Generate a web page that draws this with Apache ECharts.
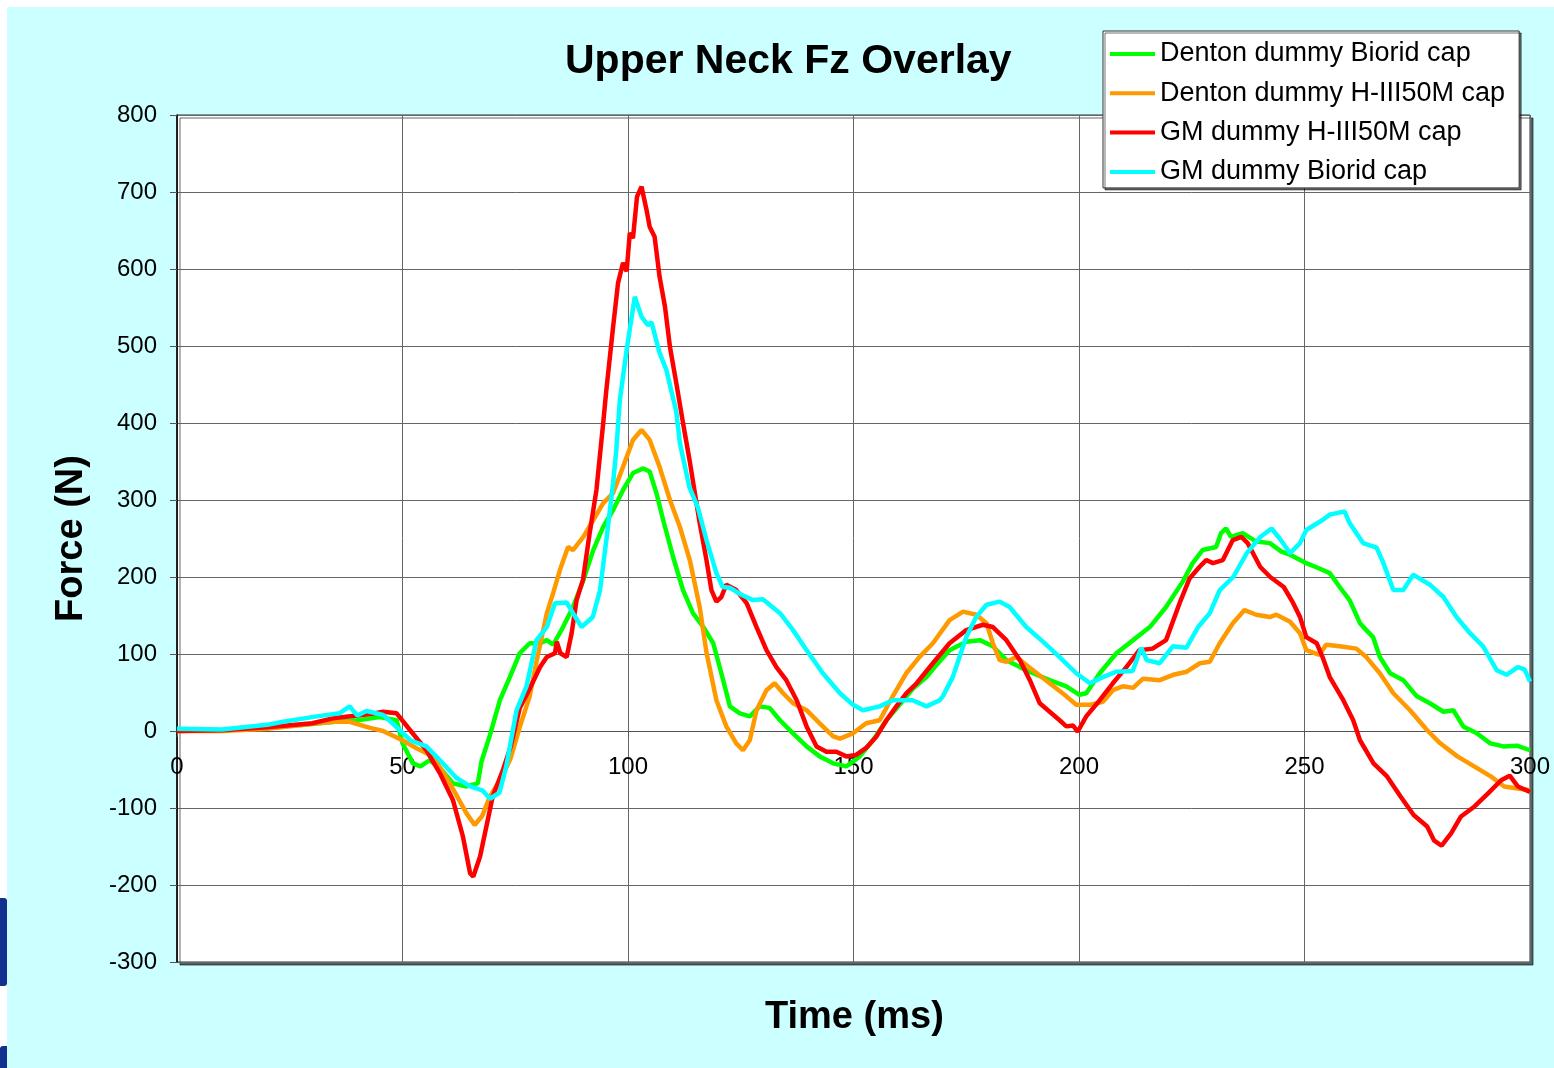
<!DOCTYPE html>
<html>
<head>
<meta charset="utf-8">
<title>Upper Neck Fz Overlay</title>
<script src="https://cdn.jsdelivr.net/npm/echarts@6/dist/echarts.min.js"></script>
<style>
  html, body { margin: 0; padding: 0; background: #ffffff; }
  #chart { width: 1554px; height: 1068px; }
</style>
</head>
<body>
<div id="chart"></div>
<script>
// legend names, same order as drawn
var seriesNames = ['Denton dummy Biorid cap', 'Denton dummy H-III50M cap', 'GM dummy H-III50M cap', 'GM dummy Biorid cap'];
var seriesColors = ['#00ff00', '#ff9900', '#ff0000', '#00ffff'];

// Denton dummy Biorid cap (ms / N)
var greenT = [0, 10, 20, 30, 35, 40, 45, 48.7, 50, 52.3, 54, 56, 58.3, 61.2, 64.2, 66.7, 67.5, 69.4, 71.6, 73.8, 76, 78.2, 80.5, 82, 83.4, 85.6, 87.8, 90.1, 92.3, 94.5, 96.7, 98.9, 101.1, 103.4, 104.8, 106.3, 107.8, 110, 112.2, 114.4, 116.7, 118.9, 120.7, 122.6, 124.8, 127, 129.2, 131.4, 133.7, 136.6, 139.6, 142.5, 145.5, 148.4, 151.4, 154.3, 157.3, 160.2, 163.2, 166.2, 168, 171.3, 175, 178, 180.9, 183.9, 186.9, 189.8, 193.5, 197.2, 200.1, 201.6, 204.6, 208.3, 212, 215.7, 219.3, 223, 225.2, 227.4, 230.4, 231.5, 232.6, 233.7, 236.3, 239.3, 242.3, 244.9, 246.8, 250.4, 253.3, 255.6, 257.8, 260, 262.3, 263.7, 265.2, 266.7, 269, 271.9, 274.9, 277.8, 280.8, 283, 285.2, 288.2, 291.2, 294.1, 297.1, 300];
var greenV = [0, 1, 4, 9, 12, 14, 18, 14, -16, -42, -46, -38, -48, -68, -72, -68, -40, -5, 40, 70, 101, 114, 114, 118, 112, 135, 161, 196, 235, 265, 287, 313, 335, 341, 337, 309, 274, 226, 183, 153, 135, 114, 75, 32, 23, 19, 32, 30, 14, -3, -20, -33, -42, -46, -33, -12, 14, 34, 55, 70, 83, 105, 116, 118, 110, 92, 83, 75, 66, 58, 47, 49, 75, 101, 118, 135, 161, 194, 218, 235, 239, 257, 263, 252, 257, 246, 244, 233, 229, 218, 211, 205, 187, 170, 140, 131, 122, 96, 75, 66, 45, 36, 25, 27, 6, -3, -16, -20, -19, -25];

// Denton dummy H-III50M cap
var orangeT = [0, 10, 20, 25, 31, 35, 38.3, 42.8, 45.7, 50, 53, 56.8, 60.5, 64.2, 66, 67.7, 69.4, 72, 74, 76, 78.2, 79.7, 82, 83.4, 84.9, 86.7, 87.8, 90.1, 92.3, 94.5, 96.7, 98.9, 101.1, 103, 104.8, 107, 109.3, 111.5, 113.7, 115.9, 117.4, 119.6, 121.8, 124, 125.5, 127, 128.5, 130.7, 132.5, 134.4, 136.6, 139.6, 142.5, 145.5, 147, 149.9, 152.8, 155.8, 158.7, 161.7, 164.6, 167.6, 171.3, 174.3, 177.2, 179.5, 180.9, 182.4, 183.9, 186.1, 189.8, 193.5, 197.2, 199.4, 202.4, 205.3, 207.5, 209.7, 212, 214.2, 217.9, 220.9, 223.9, 226.8, 229, 231.2, 234.1, 236.7, 239.3, 242.3, 243.8, 246.8, 249, 250.4, 253.3, 254.8, 257.8, 261.5, 263.7, 266.7, 269.7, 273.4, 277.2, 280.1, 283.9, 287.6, 291.3, 294.3, 296.5, 300];
var orangeV = [0, 0, 3, 6, 10, 12, 12, 4, 0, -12, -22, -33, -68, -107, -122, -110, -85, -60, -35, 5, 45, 90, 153, 179, 209, 239, 235, 252, 274, 296, 309, 343, 378, 391, 378, 343, 300, 265, 222, 161, 102, 40, 6, -16, -25, -12, 27, 53, 62, 49, 36, 27, 10, -7, -10, -3, 10, 14, 45, 75, 96, 114, 144, 155, 151, 140, 114, 92, 90, 96, 79, 62, 45, 34, 34, 38, 53, 58, 56, 68, 66, 73, 77, 88, 90, 114, 140, 157, 151, 148, 151, 142, 127, 105, 99, 112, 110, 107, 96, 75, 49, 27, 1, -16, -33, -46, -59, -72, -74, -77];

// GM dummy H-III50M cap
var redT = [0, 10, 20, 30, 35, 40, 43, 45.7, 48.7, 51.7, 55.3, 58.3, 61.2, 63.4, 65, 65.7, 67.2, 68.6, 70, 72.3, 74, 76, 78.2, 80.5, 82, 83.8, 84.2, 85, 86.4, 87.5, 88.6, 90, 91.5, 93, 94.5, 95.2, 96.7, 97.8, 98.9, 99.7, 100.4, 101.1, 102, 103, 104.1, 104.8, 105.9, 107, 108.2, 109.3, 110.7, 112.2, 113.7, 115.9, 117.4, 118.5, 119.6, 120.7, 121.8, 124, 126.3, 128.5, 130.7, 132.9, 135.1, 137.4, 139.6, 141.8, 144, 146.2, 148.4, 150.6, 152.8, 155.1, 157.3, 159.5, 161.7, 164, 167.6, 171.3, 175, 178.7, 180.9, 183.9, 186.9, 189.1, 191.3, 193.5, 195.7, 197.2, 198.7, 199.7, 201.6, 204.6, 207.5, 210.5, 213.4, 216.3, 219.3, 222.3, 224.5, 226.7, 228.2, 229.7, 231.9, 234.1, 236, 237.4, 240.2, 242.4, 245.4, 247.5, 249, 250.4, 252.7, 254, 255.6, 258.6, 260.8, 262.3, 265.3, 268.3, 271.3, 274.2, 277.2, 278.7, 280.4, 282.5, 284.7, 287.7, 290.7, 293.6, 295.5, 297.3, 300];
var redV = [0, 1, 5, 10, 17, 20, 22, 25, 23, 1, -25, -55, -90, -137, -185, -189, -163, -124, -85, -50, -20, 30, 55, 83, 96, 101, 116, 101, 96, 127, 170, 196, 257, 313, 400, 443, 525, 582, 608, 597, 647, 640, 694, 707, 677, 655, 642, 590, 551, 499, 452, 400, 350, 270, 222, 183, 168, 174, 190, 183, 166, 135, 105, 83, 66, 40, 6, -20, -27, -27, -33, -31, -22, -7, 14, 32, 49, 62, 88, 114, 131, 138, 135, 118, 92, 66, 36, 25, 14, 6, 7, -1, 19, 40, 62, 83, 105, 107, 118, 166, 198, 213, 222, 218, 222, 248, 252, 244, 213, 200, 187, 166, 148, 122, 114, 96, 70, 40, 14, -12, -42, -59, -85, -109, -124, -142, -149, -133, -111, -98, -81, -64, -58, -72, -79];

// GM dummy Biorid cap
var cyanT = [0, 10, 20, 23.5, 31, 36, 38.3, 40, 42, 45.7, 48.7, 51.7, 55.3, 58.3, 62, 65, 67.7, 69.4, 71.5, 73, 75.3, 77.5, 79.7, 82, 83.8, 86.4, 87.8, 89.7, 92.2, 93.8, 95.2, 96.7, 97.4, 98.2, 99.7, 101.5, 103, 104.4, 105.2, 107, 108.5, 110.7, 111.5, 113.6, 115.5, 117.4, 119.6, 121, 122.6, 124.8, 127.7, 129.9, 133.7, 136.6, 139.6, 143.2, 147, 149.9, 152.1, 155.8, 158.7, 161, 163.1, 166.2, 169.1, 169.8, 172, 173.5, 175, 177.2, 179.5, 182.4, 184.6, 188.3, 192, 195.7, 199.4, 202.4, 205.3, 208.3, 211.9, 213.8, 215, 217.9, 220.8, 223.8, 226.4, 229, 231.2, 234.2, 237.2, 240.2, 242.7, 244.5, 246.8, 249, 250.4, 254, 255.6, 258.9, 260, 263, 266, 267.5, 269.7, 271.9, 274.1, 277.8, 280.8, 283.7, 286.7, 289.6, 292.6, 294.8, 297.3, 298.8, 300];
var cyanV = [3, 2, 8, 12, 19, 23, 32, 20, 26, 21, 5, -12, -20, -38, -61, -72, -77, -88, -80, -46, 27, 58, 118, 135, 166, 167, 153, 135, 148, 183, 248, 322, 365, 430, 495, 564, 538, 527, 531, 491, 469, 415, 374, 317, 290, 248, 205, 187, 186, 178, 170, 171, 153, 131, 105, 75, 49, 34, 27, 32, 40, 40, 40, 32, 40, 45, 70, 96, 122, 148, 164, 168, 161, 135, 116, 96, 75, 62, 70, 77, 78, 108, 92, 88, 110, 108, 135, 153, 183, 200, 231, 252, 263, 250, 231, 244, 261, 274, 281, 285, 270, 244, 238, 218, 183, 183, 203, 190, 174, 148, 127, 110, 79, 73, 83, 80, 64];

var seriesT = [greenT, orangeT, redT, cyanT];
var seriesV = [greenV, orangeV, redV, cyanV];

var font = "'Liberation Sans', Arial, sans-serif";

var chart = document.getElementById('chart');
if (chart == null) {
    throw "ERROR! getElementById() Null: chart";
}
var myChart = echarts.init(chart);

var series = [];
for (var i = 0; i < seriesNames.length; i++) {
    var pts = [];
    for (var k = 0; k < seriesT[i].length; k++) {
        pts.push([seriesT[i][k], seriesV[i][k]]);
    }
    series.push({
        name: seriesNames[i],
        type: 'line',
        symbol: 'none',
        showSymbol: false,
        color: seriesColors[i],
        lineStyle: { color: seriesColors[i], width: 4.5 },
        data: pts
    });
}

var option = {
    animation: false,
    backgroundColor: '#ccffff',
    title: [
        {
            text: 'Upper Neck Fz Overlay',
            left: 565,
            top: 41,
            padding: 0,
            textStyle: { fontFamily: font, fontSize: 41, fontWeight: 'bold', color: '#000' }
        },
        {
            text: 'Time (ms)',
            left: 765,
            top: 999,
            padding: 0,
            textStyle: { fontFamily: font, fontSize: 38, fontWeight: 'bold', color: '#000' }
        }
    ],
    legend: {
        orient: 'vertical',
        left: 1103,
        top: 31,
        padding: [9, 14, 2, 7],
        icon: 'rect',
        itemWidth: 45,
        itemHeight: 4,
        itemGap: 11.3,
        backgroundColor: '#ffffff',
        borderColor: '#333333',
        borderWidth: 1,
        shadowColor: 'rgba(0,0,0,0.55)',
        shadowOffsetX: 2,
        shadowOffsetY: 2,
        shadowBlur: 0,
        textStyle: { fontFamily: font, fontSize: 27, color: '#000', lineHeight: 28 },
        data: seriesNames
    },
    grid: {
        left: 177,
        right: 24,
        top: 115,
        bottom: 106,
        containLabel: false,
        outerBoundsMode: 'none',
        show: true,
        backgroundColor: '#ffffff',
        borderColor: '#333333',
        borderWidth: 1,
        shadowColor: 'rgba(0,0,0,0.6)',
        shadowOffsetX: 3,
        shadowOffsetY: 3,
        shadowBlur: 0
    },
    xAxis: {
        type: 'value',
        min: 0,
        max: 300,
        interval: 50,
        position: 'bottom',
        offset: -231,   // x axis sits on the zero line
        axisLine: { show: true, onZero: false, lineStyle: { color: '#555', width: 1 } },
        axisTick: { show: true, inside: false, length: 6, lineStyle: { color: '#555' } },
        axisLabel: { fontFamily: font, fontSize: 24, color: '#000', margin: 24 },
        splitLine: { show: true, lineStyle: { color: '#666', width: 1 } }
    },
    yAxis: {
        type: 'value',
        min: -300,
        max: 800,
        interval: 100,
        name: 'Force (N)',
        nameLocation: 'middle',
        nameRotate: 90,
        nameGap: 86,
        nameTextStyle: { fontFamily: font, fontSize: 38, fontWeight: 'bold', color: '#000' },
        axisLine: { show: true, onZero: false, lineStyle: { color: '#000', width: 1.5 } },
        axisTick: { show: true, inside: false, length: 7, lineStyle: { color: '#555' } },
        axisLabel: { fontFamily: font, fontSize: 24, color: '#000', margin: 20 },
        splitLine: { show: true, lineStyle: { color: '#666', width: 1 } }
    },
    graphic: [
        { type: 'rect', left: 0, top: 0, shape: { width: 1554, height: 7 }, style: { fill: '#ffffff' }, z: 100 },
        { type: 'rect', left: 0, top: 0, shape: { width: 7, height: 1068 }, style: { fill: '#ffffff' }, z: 100 },
        { type: 'rect', left: 0, top: 898, shape: { width: 7, height: 88, r: [0, 3, 3, 0] }, style: { fill: '#12318f' }, z: 101 },
        { type: 'rect', left: 0, top: 1046, shape: { width: 7, height: 22, r: [3, 0, 0, 0] }, style: { fill: '#12318f' }, z: 101 }
    ],
    series: series
};

myChart.setOption(option);
</script>
</body>
</html>
